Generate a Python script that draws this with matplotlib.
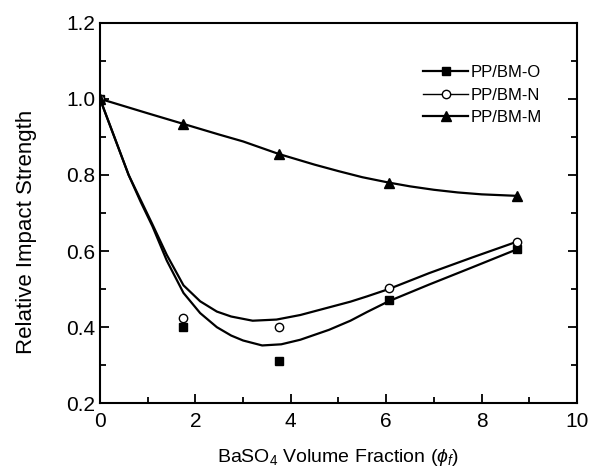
import matplotlib
matplotlib.use("Agg")
import matplotlib.pyplot as plt
from matplotlib.ticker import MultipleLocator

plt.rcParams['font.family'] = ['Liberation Sans', 'DejaVu Sans']
plt.rcParams['mathtext.fontset'] = 'custom'
plt.rcParams['mathtext.rm'] = 'Liberation Sans'
plt.rcParams['mathtext.it'] = 'Liberation Sans:italic'

# measured data points
x_pts = [0, 1.75, 3.75, 6.05, 8.75]
o_pts = [1.0, 0.40, 0.31, 0.472, 0.605]
n_pts = [1.0, 0.424, 0.40, 0.503, 0.625]
m_pts = [1.0, 0.934, 0.855, 0.780, 0.745]

# fitted curves
o_curve_x = [0, 0.3, 0.6, 0.85, 1.1, 1.4, 1.75, 2.1, 2.45, 2.75, 3.0, 3.4, 3.8, 4.2, 4.8, 5.25, 5.6, 6.05, 6.9, 7.8, 8.75]
o_curve_y = [1.0, 0.90, 0.80, 0.73, 0.665, 0.575, 0.49, 0.437, 0.40, 0.378, 0.365, 0.352, 0.355, 0.367, 0.393, 0.417, 0.44, 0.468, 0.512, 0.557, 0.605]
n_curve_x = [0, 0.3, 0.6, 0.85, 1.1, 1.4, 1.75, 2.1, 2.45, 2.75, 3.2, 3.7, 4.2, 4.8, 5.25, 5.6, 6.05, 6.9, 7.8, 8.75]
n_curve_y = [1.0, 0.90, 0.80, 0.735, 0.67, 0.59, 0.51, 0.468, 0.441, 0.428, 0.417, 0.42, 0.432, 0.452, 0.467, 0.481, 0.50, 0.542, 0.583, 0.625]
m_curve_x = [0, 0.5, 1, 1.75, 2.5, 3.0, 3.75, 4.5, 5.0, 5.5, 6.05, 6.5, 7.0, 7.5, 8.0, 8.75]
m_curve_y = [1.0, 0.981, 0.962, 0.934, 0.906, 0.888, 0.855, 0.827, 0.810, 0.794, 0.780, 0.770, 0.761, 0.754, 0.749, 0.745]

labels = ['PP/BM-O', 'PP/BM-N', 'PP/BM-M']
xticks = [0, 2, 4, 6, 8, 10]
yticks = [0.2, 0.4, 0.6, 0.8, 1.0, 1.2]

fig = plt.figure(figsize=(5.97, 4.67), dpi=100)
ax = fig.add_axes([0.1675, 0.1364, 0.799, 0.815])

lw = 1.6
ax.plot(o_curve_x, o_curve_y, color='black', lw=lw)
ax.plot(n_curve_x, n_curve_y, color='black', lw=lw)
ax.plot(m_curve_x, m_curve_y, color='black', lw=lw)
ax.plot(x_pts, o_pts, ls='none', marker='s', ms=5.2, mfc='black', mec='black')
ax.plot(x_pts, n_pts, ls='none', marker='o', ms=6, mfc='white', mec='black', mew=1.0)
ax.plot(x_pts, m_pts, ls='none', marker='^', ms=6.5, mfc='black', mec='black')

h1, = ax.plot([], [], color='black', lw=lw, marker='s', ms=5.2, mfc='black', mec='black')
h2, = ax.plot([], [], color='black', lw=1.0, marker='o', ms=6, mfc='white', mec='black', mew=1.0)
h3, = ax.plot([], [], color='black', lw=lw, marker='^', ms=6.5, mfc='black', mec='black')
ax.legend([h1, h2, h3], labels, loc='upper right', bbox_to_anchor=(0.941, 0.906),
          frameon=False, fontsize=12, handlelength=2.7, handletextpad=0.15,
          labelspacing=0.45, numpoints=1, borderaxespad=0.0)

ax.set_xlim(0, 10)
ax.set_ylim(0.2, 1.2)
ax.set_xticks(xticks)
ax.set_yticks(yticks)
ax.set_xticklabels([str(v) for v in xticks])
ax.set_yticklabels([f'{v:.1f}' for v in yticks])
ax.xaxis.set_minor_locator(MultipleLocator(1))
ax.yaxis.set_minor_locator(MultipleLocator(0.1))
ax.tick_params(which='both', direction='in', labelsize=15, width=1.3, right=True, top=False)
ax.tick_params(axis='x', which='both', pad=6)
ax.tick_params(which='major', length=6.5)
ax.tick_params(which='minor', length=4)
for s in ax.spines.values():
    s.set_linewidth(1.5)

ax.set_xlabel(r'BaSO$_4$ Volume Fraction ($\phi_f$)', fontsize=14, labelpad=12)
ax.set_ylabel('Relative Impact Strength', fontsize=16)
ax.yaxis.set_label_coords(-0.133, 0.45)

fig.savefig('out.png', dpi=100)
